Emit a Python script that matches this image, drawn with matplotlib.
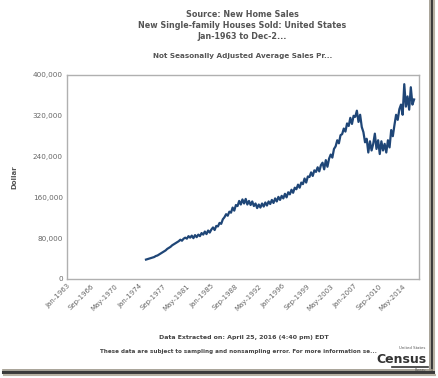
import matplotlib
matplotlib.use("Agg")
import matplotlib.pyplot as plt
from matplotlib.lines import Line2D
import numpy as np

# quarterly average sales price (thousands of dollars), 1975Q1 .. 2016Q1
prices_k = [
    38, 39, 40, 41,      # 1975
    42, 43, 45, 46,      # 1976
    48, 50, 52, 54,      # 1977
    56, 59, 61, 63,      # 1978
    66, 68, 70, 72,      # 1979
    74, 77, 75, 79,      # 1980
    81, 79, 84, 81,      # 1981
    85, 80, 86, 82,      # 1982
    87, 84, 90, 87,      # 1983
    93, 88, 95, 91,      # 1984
    97, 101, 96, 104,    # 1985
    103, 110, 108, 117,  # 1986
    121, 127, 124, 132,  # 1987
    130, 140, 134, 145,  # 1988
    143, 153, 146, 156,  # 1989
    148, 157, 146, 153,  # 1990
    145, 152, 143, 148,  # 1991
    139, 146, 140, 148,  # 1992
    142, 150, 144, 152,  # 1993
    147, 155, 149, 158,  # 1994
    152, 161, 155, 163,  # 1995
    158, 167, 160, 170,  # 1996
    166, 175, 169, 179,  # 1997
    176, 185, 179, 189,  # 1998
    186, 197, 189, 201,  # 1999
    200, 209, 202, 213,  # 2000
    210, 219, 211, 223,  # 2001
    228, 215, 233, 220,  # 2002
    236, 244, 238, 255,  # 2003
    260, 272, 266, 282,  # 2004
    284, 295, 289, 305,  # 2005
    300, 316, 304, 320,  # 2006
    318, 330, 308, 322,  # 2007
    298, 288, 268, 275,  # 2008
    248, 270, 252, 265,  # 2009
    285, 255, 272, 245,  # 2010
    270, 252, 265, 248,  # 2011
    272, 258, 292, 280,  # 2012
    302, 322, 312, 333,  # 2013
    342, 322, 382, 338,  # 2014
    358, 332, 376, 342,  # 2015
    352,                 # 2016
]
start_year = 1975

tick_labels = ["Jan-1963", "Sep-1966", "May-1970", "Jan-1974", "Sep-1977",
               "May-1981", "Jan-1985", "Sep-1988", "May-1992", "Jan-1996",
               "Sep-1999", "May-2003", "Jan-2007", "Sep-2010", "May-2014"]
y_ticks = [0, 80000, 160000, 240000, 320000, 400000]


def month_index(label):
    months = ["Jan", "Feb", "Mar", "Apr", "May", "Jun",
              "Jul", "Aug", "Sep", "Oct", "Nov", "Dec"]
    m, y = label.split("-")
    return (int(y) - 1963) * 12 + months.index(m)


x = (start_year - 1963) * 12 + 1 + 3 * np.arange(len(prices_k))
y = np.array(prices_k) * 1000

gray = "#555555"
fig = plt.figure(figsize=(4.39, 3.78), dpi=100)
ax = fig.add_axes([0.1526, 0.262, 0.8018, 0.5396])

ax.plot(x, y, color="#1f4677", lw=1.6)
ax.set_xlim(0, 646)
ax.set_ylim(0, 400000)

ax.set_yticks(y_ticks)
ax.set_yticklabels([f"{v:,}" for v in y_ticks], fontsize=5.2, color="#666666")
ax.set_xticks([month_index(t) for t in tick_labels])
ax.set_xticklabels(tick_labels, rotation=45, ha="right", va="top",
                   rotation_mode="anchor", fontsize=5.0, color="#666666")
ax.tick_params(length=0, pad=3)
for s in ax.spines.values():
    s.set_color("#b0b0b0")
    s.set_linewidth(1.0)
ax.set_ylabel("Dollar", fontsize=5.0, fontweight="bold", color=gray)
ax.yaxis.set_label_coords(-0.142, 0.5)

fig.text(0.552, 0.962, "Source: New Home Sales", ha="center", va="center",
         fontsize=5.8, fontweight="bold", color=gray)
fig.text(0.552, 0.932, "New Single-family Houses Sold: United States", ha="center",
         va="center", fontsize=5.8, fontweight="bold", color=gray)
fig.text(0.552, 0.903, "Jan-1963 to Dec-2...", ha="center", va="center",
         fontsize=5.8, fontweight="bold", color=gray)
fig.text(0.553, 0.852, "Not Seasonally Adjusted Average Sales Pr...", ha="center",
         va="center", fontsize=5.2, fontweight="bold", color=gray)

fig.text(0.556, 0.108, "Data Extracted on: April 25, 2016 (4:40 pm) EDT", ha="center",
         va="center", fontsize=4.5, fontweight="bold", color="#444444")
fig.text(0.544, 0.071,
         "These data are subject to sampling and nonsampling error. For more information se...",
         ha="center", va="center", fontsize=4.1, fontweight="bold", color="#444444")

# census logo
fig.text(0.970, 0.080, "United States", ha="right", va="center", fontsize=2.8,
         color="#555555")
fig.text(0.972, 0.050, "Census", ha="right", va="center", fontsize=9,
         fontweight="bold", color="#333333", family="Liberation Sans Narrow")
fig.add_artist(Line2D([392 / 439, 428 / 439], [0.030, 0.030], color="#333333",
                      lw=1.2, transform=fig.transFigure))
fig.text(0.970, 0.021, "Bureau", ha="right", va="center", fontsize=2.3,
         color="#555555")

# thumbnail frame shadow (right and bottom)
W, H = 439, 378
frame = [
    ([430 / W, 430 / W], [1.0, 6 / H], "#9a9486", 1.2),
    ([432 / W, 432 / W], [1.0, 5 / H], "#3a3a3a", 2.2),
    ([434.5 / W, 434.5 / W], [1.0, 3 / H], "#b8b2a4", 1.5),
    ([3 / W, 432 / W], [8 / H, 8 / H], "#9a9486", 1.2),
    ([3 / W, 433 / W], [6 / H, 6 / H], "#3a3a3a", 2.2),
    ([4 / W, 435 / W], [3.5 / H, 3.5 / H], "#b8b2a4", 1.5),
]
for xs, ys, c, lw in frame:
    fig.add_artist(Line2D(xs, ys, color=c, lw=lw, transform=fig.transFigure))

fig.savefig("out.png", dpi=100)
